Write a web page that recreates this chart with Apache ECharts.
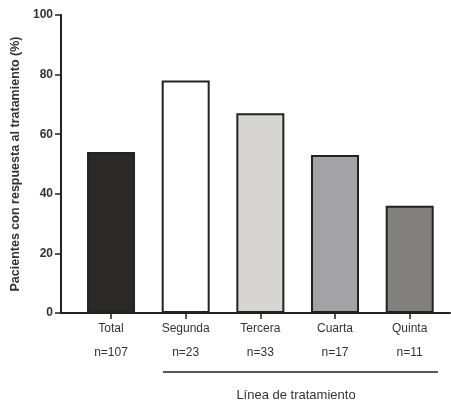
<!DOCTYPE html>
<html><head><meta charset="utf-8">
<script src="https://cdn.jsdelivr.net/npm/echarts@6/dist/echarts.min.js"></script>
<style>html,body{margin:0;padding:0;background:#fff}#c{width:451px;height:401px}</style>
</head><body><div id="c"></div>
<script>
const categories = ['Total', 'Segunda', 'Tercera', 'Cuarta', 'Quinta'];
const sampleSizes = ['n=107', 'n=23', 'n=33', 'n=17', 'n=11'];
const responsePct = [54, 78, 67, 53, 36];
const barColors = ['#2b2828', '#ffffff', '#d6d5d4', '#a3a2a4', '#81807f'];
const yTicks = [0, 20, 40, 60, 80, 100];

const chart = echarts.init(document.getElementById('c'));
const idx = categories.map((_, i) => i);
const FF = 'Liberation Sans, Arial, sans-serif';
chart.setOption({
  animation: false,
  grid: { left: 61, right: 1, top: 15, bottom: 88, containLabel: false },
  xAxis: {
    type: 'value', min: -0.67, max: 4.54,
    axisLine: { show: true, onZero: false, lineStyle: { color: '#222', width: 2 } },
    axisTick: { show: true, customValues: idx, length: 6, lineStyle: { color: '#222', width: 1.5 } },
    splitLine: { show: false },
    axisLabel: {
      customValues: idx, margin: 4,
      formatter: v => '{a|' + categories[Math.round(v)] + '}\n{a|' + sampleSizes[Math.round(v)] + '}',
      rich: { a: { fontFamily: FF, fontSize: 12, color: '#333', lineHeight: 24 } }
    }
  },
  yAxis: {
    type: 'value', min: 0, max: 100, interval: 20,
    name: 'Pacientes con respuesta al tratamiento (%)',
    nameLocation: 'middle', nameGap: 38,
    nameTextStyle: { fontFamily: FF, fontSize: 12.5, fontWeight: 'bold', color: '#333' },
    axisLine: { show: true, onZero: false, lineStyle: { color: '#222', width: 2 } },
    axisTick: { show: true, length: 6, lineStyle: { color: '#222', width: 1.5 } },
    splitLine: { show: false },
    axisLabel: { margin: 8, fontFamily: FF, fontSize: 12, fontWeight: 'bold', color: '#333',
      formatter: v => yTicks.includes(v) ? String(v) : '' }
  },
  series: [{
    type: 'bar', barWidth: 48,
    data: responsePct.map((v, i) => ({ value: [i, v], itemStyle: { color: barColors[i], borderColor: '#222', borderWidth: 2 } }))
  }],
  graphic: [
    { type: 'line', shape: { x1: 163, y1: 372, x2: 438, y2: 372 }, style: { stroke: '#222', lineWidth: 1.5 } },
    { type: 'text', x: 296, y: 395, style: { text: 'Línea de tratamiento', fontFamily: FF, fontSize: 13, fill: '#333', textAlign: 'center', textVerticalAlign: 'middle' } }
  ]
});
</script></body></html>
